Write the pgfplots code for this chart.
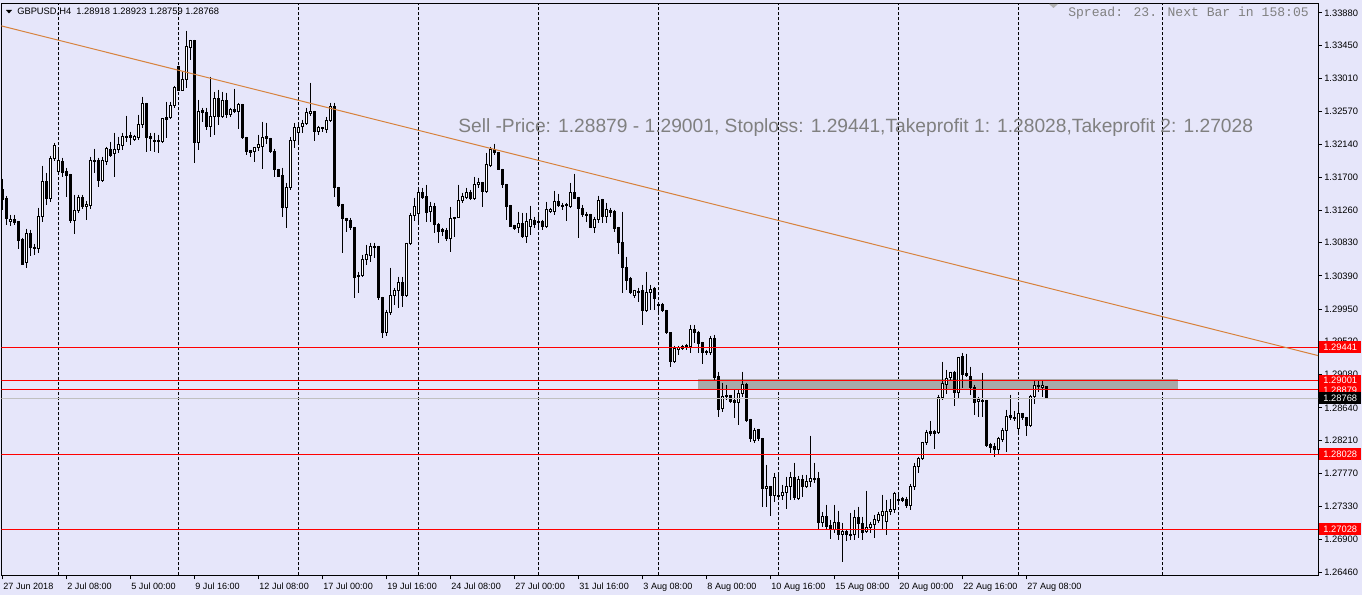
\documentclass[border=0pt]{standalone}
\usepackage{fontspec}
\setmainfont{Liberation Sans}
\newfontfamily\monofont{Liberation Mono}
\usepackage{pgfplots}
\pgfplotsset{compat=1.18}
\usepackage{pgfplotstable}
\definecolor{bg}{RGB}{230,230,250}
\definecolor{trend}{RGB}{215,130,60}
\definecolor{band}{RGB}{168,168,168}
\definecolor{txtgray}{RGB}{128,128,128}
\definecolor{silverline}{RGB}{192,192,192}

\pgfplotstableread{
i o h l c
0 1.31536 1.31682 1.31271 1.31403
1 1.31416 1.31456 1.31072 1.31151
2 1.31111 1.31204 1.31058 1.31138
3 1.31138 1.31204 1.31072 1.31098
4 1.31111 1.31111 1.30753 1.30859
5 1.30873 1.30899 1.30541 1.30541
6 1.30568 1.31019 1.30501 1.30952
7 1.30952 1.31005 1.30660 1.30767
8 1.30767 1.30820 1.30674 1.30753
9 1.30753 1.31297 1.30700 1.31178
10 1.31178 1.31854 1.31111 1.31642
11 1.31642 1.31761 1.31337 1.31416
12 1.31416 1.31987 1.31377 1.31947
13 1.31947 1.32159 1.31921 1.32119
14 1.31775 1.32093 1.31735 1.31921
15 1.31907 1.31960 1.31708 1.31761
16 1.31775 1.31828 1.31443 1.31722
17 1.31735 1.31748 1.31098 1.31125
18 1.31125 1.31470 1.30952 1.31257
19 1.31257 1.31470 1.31231 1.31430
20 1.31430 1.31470 1.31284 1.31310
21 1.31310 1.31390 1.31138 1.31337
22 1.31324 1.31974 1.31284 1.31921
23 1.31921 1.32080 1.31761 1.31907
24 1.31921 1.31960 1.31576 1.31655
25 1.31655 1.31974 1.31642 1.31921
26 1.31907 1.32106 1.31867 1.32080
27 1.32066 1.32173 1.31974 1.31987
28 1.32013 1.32292 1.31708 1.32066
29 1.32066 1.32239 1.32027 1.32133
30 1.32119 1.32292 1.32066 1.32239
31 1.32239 1.32517 1.32173 1.32226
32 1.32252 1.32305 1.32133 1.32226
33 1.32199 1.32265 1.32186 1.32239
34 1.32226 1.32531 1.32199 1.32398
35 1.32398 1.32769 1.32358 1.32677
36 1.32677 1.32690 1.32040 1.32226
37 1.32239 1.32292 1.32053 1.32212
38 1.32186 1.32292 1.32040 1.32173
39 1.32173 1.32265 1.32027 1.32186
40 1.32173 1.32491 1.32159 1.32478
41 1.32491 1.32703 1.32226 1.32464
42 1.32491 1.32703 1.32478 1.32650
43 1.32650 1.32915 1.32624 1.32889
44 1.33167 1.33180 1.32849 1.32849
45 1.32849 1.33101 1.32849 1.32995
46 1.32995 1.33645 1.32889 1.33433
47 1.33419 1.33525 1.33260 1.33512
48 1.33512 1.33525 1.31894 1.32159
49 1.32159 1.32730 1.32066 1.32570
50 1.32584 1.32624 1.32438 1.32557
51 1.32557 1.32624 1.32332 1.32372
52 1.32372 1.33035 1.32239 1.32504
53 1.32504 1.32836 1.32265 1.32743
54 1.32743 1.32862 1.32398 1.32504
55 1.32504 1.32836 1.32491 1.32716
56 1.32716 1.32822 1.32491 1.32531
57 1.32531 1.32624 1.32504 1.32597
58 1.32597 1.32876 1.32557 1.32570
59 1.32570 1.32690 1.32345 1.32663
60 1.32663 1.32677 1.32212 1.32226
61 1.32226 1.32239 1.32000 1.32040
62 1.32053 1.32066 1.31974 1.32027
63 1.32040 1.32106 1.31907 1.32093
64 1.32093 1.32265 1.32053 1.32133
65 1.32106 1.32438 1.31814 1.32226
66 1.32239 1.32425 1.32146 1.32212
67 1.32212 1.32226 1.32027 1.32040
68 1.32040 1.32080 1.31708 1.31801
69 1.31801 1.31814 1.31708 1.31708
70 1.31722 1.31828 1.31178 1.31297
71 1.31297 1.31629 1.31032 1.31562
72 1.31562 1.32239 1.31536 1.32186
73 1.32186 1.32425 1.32093 1.32358
74 1.32292 1.32411 1.32173 1.32358
75 1.32372 1.32464 1.32292 1.32411
76 1.32411 1.32624 1.32398 1.32557
77 1.32544 1.32955 1.32517 1.32570
78 1.32570 1.32584 1.32186 1.32305
79 1.32305 1.32385 1.32265 1.32358
80 1.32358 1.32372 1.32305 1.32345
81 1.32332 1.32504 1.32292 1.32451
82 1.32451 1.32690 1.32438 1.32637
83 1.32637 1.32690 1.31443 1.31562
84 1.31562 1.31576 1.31310 1.31324
85 1.31337 1.31350 1.30700 1.31151
86 1.31151 1.31164 1.30979 1.31125
87 1.31125 1.31164 1.31005 1.31032
88 1.31032 1.31045 1.30103 1.30369
89 1.30382 1.30448 1.30170 1.30395
90 1.30395 1.30674 1.30382 1.30607
91 1.30607 1.30806 1.30541 1.30674
92 1.30660 1.30833 1.30581 1.30780
93 1.30780 1.30833 1.30634 1.30767
94 1.30780 1.30793 1.30077 1.30103
95 1.30103 1.30116 1.29573 1.29639
96 1.29639 1.29944 1.29599 1.29904
97 1.29904 1.30501 1.29878 1.30130
98 1.30130 1.30236 1.30010 1.30196
99 1.30196 1.30382 1.29970 1.30302
100 1.30302 1.30382 1.29984 1.30130
101 1.30130 1.30833 1.30116 1.30820
102 1.30820 1.31231 1.30806 1.31191
103 1.31191 1.31430 1.31125 1.31310
104 1.31217 1.31562 1.31111 1.31496
105 1.31496 1.31562 1.31416 1.31430
106 1.31443 1.31602 1.31111 1.31231
107 1.31244 1.31377 1.31111 1.31310
108 1.31310 1.31363 1.30966 1.31072
109 1.31072 1.31098 1.30833 1.30979
110 1.31005 1.31032 1.30926 1.30979
111 1.30992 1.31032 1.30859 1.30886
112 1.30886 1.31310 1.30713 1.31151
113 1.31164 1.31178 1.30912 1.31151
114 1.31164 1.31602 1.31164 1.31390
115 1.31390 1.31496 1.31363 1.31443
116 1.31430 1.31562 1.31416 1.31496
117 1.31496 1.31536 1.31403 1.31416
118 1.31416 1.31708 1.31403 1.31602
119 1.31602 1.31695 1.31562 1.31629
120 1.31629 1.31642 1.31310 1.31509
121 1.31509 1.32027 1.31496 1.31867
122 1.31854 1.32106 1.31841 1.32066
123 1.32066 1.32146 1.32000 1.32027
124 1.32027 1.32040 1.31801 1.31801
125 1.31801 1.31814 1.31562 1.31602
126 1.31602 1.31615 1.31138 1.31310
127 1.31324 1.31337 1.31045 1.31045
128 1.31058 1.31072 1.31005 1.31019
129 1.31032 1.31244 1.30966 1.31085
130 1.31085 1.31231 1.30899 1.30912
131 1.30912 1.31231 1.30833 1.31111
132 1.31045 1.31324 1.30939 1.31138
133 1.31125 1.31178 1.31032 1.31072
134 1.31111 1.31204 1.31005 1.31098
135 1.31111 1.31138 1.31005 1.31045
136 1.31045 1.31377 1.31032 1.31271
137 1.31244 1.31297 1.31231 1.31271
138 1.31244 1.31523 1.31204 1.31377
139 1.31377 1.31483 1.31310 1.31324
140 1.31310 1.31363 1.31271 1.31324
141 1.31324 1.31363 1.31125 1.31337
142 1.31310 1.31629 1.31297 1.31496
143 1.31496 1.31748 1.31416 1.31416
144 1.31430 1.31443 1.30899 1.31284
145 1.31284 1.31337 1.31178 1.31204
146 1.31204 1.31244 1.31111 1.31191
147 1.31204 1.31217 1.31032 1.31032
148 1.31032 1.31178 1.30966 1.31138
149 1.31138 1.31456 1.31098 1.31390
150 1.31403 1.31416 1.31098 1.31178
151 1.31178 1.31363 1.31098 1.31271
152 1.31257 1.31297 1.31178 1.31231
153 1.31244 1.31271 1.30979 1.31019
154 1.31032 1.31045 1.30687 1.30833
155 1.30833 1.31244 1.30170 1.30501
156 1.30501 1.30647 1.30209 1.30329
157 1.30355 1.30382 1.30156 1.30170
158 1.30130 1.30209 1.30103 1.30196
159 1.30183 1.30236 1.30050 1.30170
160 1.30196 1.30276 1.29745 1.29931
161 1.29931 1.30448 1.29917 1.30170
162 1.30170 1.30276 1.29944 1.30209
163 1.30223 1.30249 1.29944 1.30090
164 1.30010 1.30050 1.29917 1.29997
165 1.30010 1.30037 1.29917 1.29931
166 1.29931 1.29944 1.29626 1.29639
167 1.29639 1.29639 1.29188 1.29254
168 1.29254 1.29467 1.29241 1.29427
169 1.29414 1.29467 1.29347 1.29440
170 1.29427 1.29480 1.29414 1.29453
171 1.29453 1.29493 1.29414 1.29467
172 1.29453 1.29745 1.29374 1.29679
173 1.29679 1.29745 1.29506 1.29639
174 1.29639 1.29666 1.29374 1.29493
175 1.29506 1.29520 1.29228 1.29374
176 1.29387 1.29414 1.29347 1.29374
177 1.29374 1.29599 1.29347 1.29560
178 1.29560 1.29613 1.29016 1.29042
179 1.29055 1.29122 1.28525 1.28618
180 1.28631 1.28976 1.28591 1.28790
181 1.28790 1.28949 1.28750 1.28803
182 1.28803 1.28817 1.28711 1.28724
183 1.28737 1.28883 1.28512 1.28711
184 1.28711 1.28883 1.28419 1.28830
185 1.28830 1.29122 1.28790 1.28949
186 1.28949 1.28976 1.28459 1.28472
187 1.28485 1.28498 1.28193 1.28233
188 1.28207 1.28379 1.28180 1.28339
189 1.28352 1.28366 1.28207 1.28233
190 1.28233 1.28246 1.27331 1.27570
191 1.27570 1.27888 1.27331 1.27596
192 1.27596 1.27610 1.27212 1.27477
193 1.27477 1.27782 1.27397 1.27716
194 1.27477 1.27782 1.27424 1.27464
195 1.27477 1.27623 1.27424 1.27517
196 1.27517 1.27729 1.27305 1.27596
197 1.27596 1.27795 1.27424 1.27716
198 1.27716 1.27915 1.27424 1.27451
199 1.27437 1.27742 1.27424 1.27689
200 1.27689 1.27756 1.27464 1.27596
201 1.27596 1.27756 1.27583 1.27663
202 1.27663 1.28273 1.27596 1.27703
203 1.27689 1.27915 1.27650 1.27703
204 1.27703 1.27795 1.27039 1.27119
205 1.27119 1.27265 1.27066 1.27198
206 1.27198 1.27358 1.27026 1.27066
207 1.27079 1.27159 1.26907 1.27026
208 1.27026 1.27358 1.26986 1.27119
209 1.27119 1.27278 1.26893 1.26960
210 1.26960 1.27119 1.26602 1.26999
211 1.26999 1.27026 1.26880 1.26960
212 1.26960 1.27252 1.26893 1.26946
213 1.26960 1.27291 1.26893 1.27185
214 1.27185 1.27331 1.26920 1.27106
215 1.27106 1.27198 1.26893 1.26986
216 1.26999 1.27543 1.26986 1.27053
217 1.27053 1.27132 1.26986 1.27092
218 1.27092 1.27225 1.26920 1.27159
219 1.27145 1.27265 1.27119 1.27225
220 1.27212 1.27490 1.27026 1.27265
221 1.27132 1.27424 1.26960 1.27265
222 1.27265 1.27437 1.27225 1.27291
223 1.27291 1.27530 1.27252 1.27504
224 1.27411 1.27517 1.27384 1.27424
225 1.27437 1.27464 1.27397 1.27411
226 1.27424 1.27464 1.27318 1.27344
227 1.27344 1.27636 1.27291 1.27596
228 1.27596 1.27915 1.27557 1.27862
229 1.27862 1.27994 1.27782 1.27968
230 1.27968 1.28193 1.27955 1.28180
231 1.28180 1.28352 1.28153 1.28313
232 1.28326 1.28472 1.28273 1.28299
233 1.28326 1.28352 1.28100 1.28299
234 1.28313 1.28817 1.28299 1.28777
235 1.28777 1.29254 1.28750 1.28963
236 1.28949 1.29148 1.28830 1.29029
237 1.29042 1.29122 1.29016 1.29109
238 1.29109 1.29135 1.28671 1.28843
239 1.28843 1.29321 1.28777 1.29307
240 1.29321 1.29374 1.28910 1.29082
241 1.29095 1.29361 1.29055 1.29069
242 1.29055 1.29188 1.28817 1.28910
243 1.28910 1.28949 1.28551 1.28711
244 1.28724 1.28790 1.28525 1.28750
245 1.28724 1.29109 1.28525 1.28737
246 1.28737 1.28750 1.28127 1.28140
247 1.28153 1.28180 1.28047 1.28114
248 1.28127 1.28180 1.27994 1.28087
249 1.28087 1.28260 1.28021 1.28233
250 1.28220 1.28379 1.28193 1.28339
251 1.28339 1.28618 1.28061 1.28525
252 1.28538 1.28817 1.28485 1.28512
253 1.28512 1.28604 1.28472 1.28498
254 1.28366 1.28684 1.28326 1.28565
255 1.28565 1.28578 1.28485 1.28512
256 1.28512 1.28525 1.28273 1.28405
257 1.28405 1.28817 1.28392 1.28790
258 1.28790 1.29002 1.28697 1.28936
259 1.28923 1.29002 1.28856 1.28936
260 1.28910 1.29002 1.28790 1.28936
261 1.28918 1.28923 1.28759 1.28768
}\ohlc

\begin{document}
\begin{tikzpicture}[x=0.75pt,y=0.75pt]
\useasboundingbox (0,0) rectangle (1362,595);
\fill[bg] (0,0) rectangle (1362,595);
\coordinate (AxO) at (1.5,19.7);
\begin{axis}[
  at={(AxO)}, anchor=south west,
  scale only axis, width=987.375pt, height=429pt,
  xmin=-0.25, xmax=328.875, ymin=1.264194, ymax=1.340066,
  clip mode=individual,
  axis line style={black, line width=0.75pt},
  tick style={black, line width=0.75pt},
  tick align=outside, major tick length=3pt,
  xtick pos=bottom, ytick pos=right, yticklabel pos=right,
  xtick={0,16,...,256},
  xticklabels={27 Jun 2018, 2 Jul 08:00, 5 Jul 00:00, 9 Jul 16:00, 12 Jul 08:00, 17 Jul 00:00, 19 Jul 16:00, 24 Jul 08:00, 27 Jul 00:00, 31 Jul 16:00, 3 Aug 08:00, 8 Aug 00:00, 10 Aug 16:00, 15 Aug 08:00, 20 Aug 00:00, 22 Aug 16:00, 27 Aug 08:00},
  ytick={1.26460,1.26900,1.27330,1.27770,1.28210,1.28640,1.29080,1.29520,1.29950,1.30390,1.30830,1.31260,1.31700,1.32140,1.32570,1.33010,1.33450,1.33880},
  yticklabels={1.26460,1.26900,1.27330,1.27770,1.28210,1.28640,1.29080,1.29520,1.29950,1.30390,1.30830,1.31260,1.31700,1.32140,1.32570,1.33010,1.33450,1.33880},
  tick label style={font=\fontsize{7}{8}\selectfont, inner sep=0pt},
  xticklabel style={anchor=north west, xshift=0.5pt, yshift=-2.5pt, font=\fontsize{6.8}{8}\selectfont},
  yticklabel style={anchor=west, xshift=1.5pt},
  major grid style={black, line width=0.75pt, dash pattern=on 2.25pt off 1.5pt},
  extra x ticks={13.95,43.95,73.95,103.95,133.95,163.95,193.95,223.95,253.95,289.95},
  extra x tick labels={},
  extra x tick style={grid=major, major tick length=0pt},
]
% entry zone rectangle
\addplot[forget plot, fill=band, draw=none] coordinates {(173.9,1.29028) (293.9,1.29028) (293.9,1.28879) (173.9,1.28879)} -- cycle;
% wicks
\addplot[forget plot, draw=none, mark=none,
  error bars/.cd, y dir=minus, y explicit, error mark=none,
  error bar style={draw=black, solid, line width=0.75pt}]
  table[x=i, y=h, y error expr=\thisrow{h}-\thisrow{l}] {\ohlc};
% bodies
\addplot[forget plot, draw=none, mark=none,
  error bars/.cd, y dir=minus, y explicit, error mark=none,
  error bar style={draw=black, solid, line width=2.25pt}]
  table[x=i, y expr={max(\thisrow{o},\thisrow{c})+0.00007}, y error expr={abs(\thisrow{o}-\thisrow{c})+0.00014}] {\ohlc};
% hollow interiors of bullish candles
\addplot[forget plot, draw=none, mark=none,
  restrict expr to domain={\thisrow{c}-\thisrow{o}}{0.00015:1},
  error bars/.cd, y dir=minus, y explicit, error mark=none,
  error bar style={draw=white, solid, line width=0.75pt}]
  table[x=i, y expr={\thisrow{c}-0.00007}, y error expr={\thisrow{c}-\thisrow{o}-0.00014}] {\ohlc};
% horizontal levels
\addplot[forget plot, red, line width=0.75pt] coordinates {(-1,1.29441) (330,1.29441)};
\addplot[forget plot, red, line width=0.75pt] coordinates {(-1,1.29001) (330,1.29001)};
\addplot[forget plot, red, line width=0.75pt] coordinates {(-1,1.28879) (330,1.28879)};
\addplot[forget plot, red, line width=0.75pt] coordinates {(-1,1.28028) (330,1.28028)};
\addplot[forget plot, red, line width=0.75pt] coordinates {(-1,1.27028) (330,1.27028)};
\addplot[forget plot, silverline, line width=0.75pt] coordinates {(-1,1.28768) (330,1.28768)};
% trend line
\addplot[forget plot, trend, line width=0.75pt] coordinates {(-0.625,1.33711) (328.875,1.29334)};
\coordinate (L1) at (axis cs:328.875,1.29441);
\coordinate (L2) at (axis cs:328.875,1.29001);
\coordinate (L3) at (axis cs:328.875,1.28879);
\coordinate (L4) at (axis cs:328.875,1.28028);
\coordinate (L5) at (axis cs:328.875,1.27028);
\coordinate (L6) at (axis cs:328.875,1.28768);
\end{axis}
\tikzset{lbl/.style={text=white, inner sep=0pt, minimum width=31.5pt, minimum height=9pt, anchor=west, font=\fontsize{7}{8}\selectfont}}
\node[lbl, fill=red] at ([xshift=0.75pt]L1) {1.29441};
\node[lbl, fill=red] at ([xshift=0.75pt]L2) {1.29001};
\node[lbl, fill=red] at ([xshift=0.75pt]L3) {1.28879};
\node[lbl, fill=red] at ([xshift=0.75pt]L4) {1.28028};
\node[lbl, fill=red] at ([xshift=0.75pt]L5) {1.27028};
\node[lbl, fill=black] at ([xshift=0.75pt]L6) {1.28768};
% header texts
\fill[black] (6,585) -- (12,585) -- (9,581.5) -- cycle;
\node[anchor=base west, inner sep=0pt, font=\fontsize{7}{8}\selectfont] at (17,580) {GBPUSD,H4\ \ 1.28918 1.28923 1.28759 1.28768};
\fill[gray!60] (1049,591) -- (1058,591) -- (1053.5,587) -- cycle;
\node[anchor=base west, inner sep=0pt, font=\monofont\fontsize{9.8}{12}\selectfont, text=txtgray] at (1068,578.3) {Spread: 23. Next Bar in 158:05};
\node[anchor=base west, inner sep=0pt, font=\fontsize{14.4}{17}\selectfont, text=txtgray] at (458,462.5) {Sell -Price: 1.28879 - 1.29001, Stoploss: 1.29441,Takeprofit 1: 1.28028,Takeprofit 2: 1.27028};
\end{tikzpicture}
\end{document}
